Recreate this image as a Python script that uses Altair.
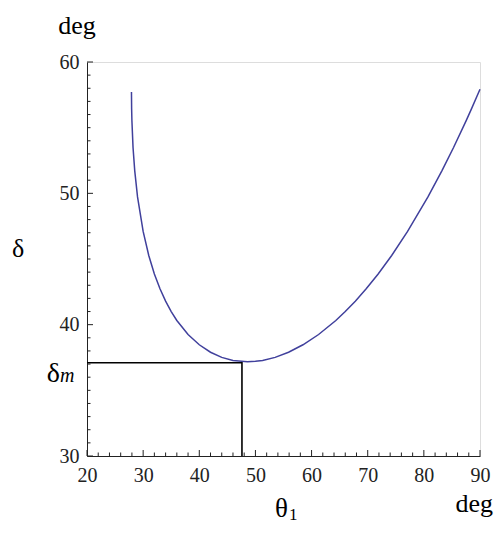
import altair as alt
import pandas as pd

# Deviation curve
theta1 = [27.92, 27.95, 28.0, 28.2, 28.5, 29, 30, 31, 32, 33, 34, 35, 36, 38, 40, 42, 44, 46,
          48.59, 50, 51.28, 53.51, 55.90, 58.47, 61.25, 64.32, 66.00, 67.79, 69.73, 71.86,
          74.27, 77.10, 80.73, 83.23, 85.29, 87.52, 88.48, 90.0]
delta = [57.72, 56.43, 55.52, 53.49, 51.73, 49.73, 47.10, 45.27, 43.86, 42.73, 41.79, 41.00,
         40.32, 39.25, 38.47, 37.90, 37.51, 37.28, 37.18, 37.21, 37.28, 37.51, 37.90, 38.47,
         39.25, 40.32, 41.00, 41.79, 42.73, 43.86, 45.27, 47.10, 49.73, 51.73, 53.49, 55.52,
         56.43, 57.92]

# Minimum-deviation guide lines
theta_m = 47.6
delta_m = 37.1
x_min, x_max = 20, 90
y_min, y_max = 30, 60

x_major = [20, 30, 40, 50, 60, 70, 80, 90]
x_minor = [v for v in range(20, 91, 2) if v % 10 != 0]
y_major = [30, 40, 50, 60]
y_minor = [v for v in range(30, 61) if v % 10 != 0]

W, H = 393, 394
FONT = "Liberation Serif"
CURVE = "#40409c"

curve_df = pd.DataFrame({"t": theta1, "d": delta})
xs = alt.Scale(domain=[x_min, x_max], nice=False, zero=False)
ys = alt.Scale(domain=[y_min, y_max], nice=False, zero=False)

x_axis = alt.Axis(values=x_major, ticks=False, grid=False, domainColor="#222", domainWidth=1,
                  labelFont=FONT, labelFontSize=20, labelColor="#222", labelPadding=9,
                  title=None, labelFlush=False)
y_axis = alt.Axis(values=y_major, ticks=False, grid=False, domainColor="#222", domainWidth=1,
                  labelFont=FONT, labelFontSize=20, labelColor="#222", labelPadding=8,
                  title=None)

curve = alt.Chart(curve_df).mark_line(color=CURVE, strokeWidth=1.5).encode(
    x=alt.X("t:Q", scale=xs, axis=x_axis),
    y=alt.Y("d:Q", scale=ys, axis=y_axis),
)

guide_df = pd.DataFrame({"t": [x_min, theta_m, theta_m], "d": [delta_m, delta_m, y_min], "o": [0, 1, 2]})
guide = alt.Chart(guide_df).mark_line(color="black", strokeWidth=1.6).encode(
    x=alt.X("t:Q", scale=xs), y=alt.Y("d:Q", scale=ys), order="o:Q"
)

xmaj = alt.Chart(pd.DataFrame({"v": x_major})).mark_rule(color="#222", strokeWidth=1).encode(
    x=alt.X("v:Q", scale=xs), y=alt.value(H), y2=alt.value(H - 6))
xmin_ = alt.Chart(pd.DataFrame({"v": x_minor})).mark_rule(color="#222", strokeWidth=1).encode(
    x=alt.X("v:Q", scale=xs), y=alt.value(H), y2=alt.value(H - 3.5))
ymaj = alt.Chart(pd.DataFrame({"v": y_major})).mark_rule(color="#222", strokeWidth=1).encode(
    y=alt.Y("v:Q", scale=ys), x=alt.value(0), x2=alt.value(6))
ymin_ = alt.Chart(pd.DataFrame({"v": y_minor})).mark_rule(color="#222", strokeWidth=1).encode(
    y=alt.Y("v:Q", scale=ys), x=alt.value(0), x2=alt.value(3.5))

def label(txt, x, y, size=26, align="center", style="normal"):
    return alt.Chart(pd.DataFrame({"s": [txt]})).mark_text(
        font=FONT, fontSize=size, align=align, baseline="alphabetic", color="black",
        fontStyle=style).encode(text="s:N", x=alt.value(x), y=alt.value(y))

deg_top = label("deg", -10, -28)
delta_lbl = label("δ", -69, 195)
deg_right = label("deg", 406, 450, align="right")
theta_lbl = label("θ", 201, 455, size=27, align="right")
theta_sub = label("1", 202, 458, size=17, align="left")

dm_df = pd.DataFrame({"s": ["δ"], "d": [delta_m]})
dm = alt.Chart(dm_df).mark_text(font=FONT, fontSize=28, align="right", baseline="alphabetic",
                                 dy=19, color="black").encode(
    text="s:N", x=alt.value(-27), y=alt.Y("d:Q", scale=ys))
mm_df = pd.DataFrame({"s": ["m"], "d": [delta_m]})
mm = alt.Chart(mm_df).mark_text(font=FONT, fontSize=20, align="left", baseline="alphabetic",
                                 dy=19, fontStyle="italic", color="black").encode(
    text="s:N", x=alt.value(-27), y=alt.Y("d:Q", scale=ys))

chart = alt.layer(curve, guide, xmaj, xmin_, ymaj, ymin_, deg_top, delta_lbl, deg_right,
                  theta_lbl, theta_sub, dm, mm).properties(
    width=W, height=H,
    autosize=alt.AutoSizeParams(type="none"),
    padding={"left": 79, "top": 54, "right": 14, "bottom": 71},
).configure_view(stroke=None).configure(background="white")

chart.save("out.html", embed_options={"renderer": "svg", "actions": False})
